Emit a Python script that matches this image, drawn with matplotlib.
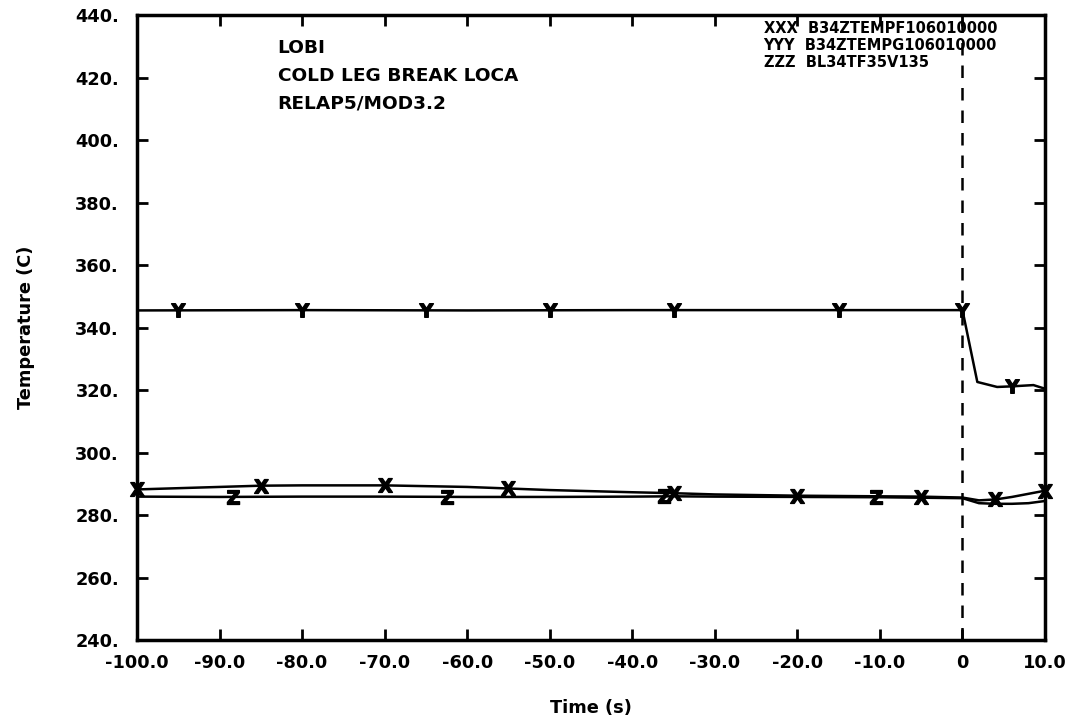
import numpy as np
import matplotlib
matplotlib.use("Agg")
import matplotlib.pyplot as plt

plt.rcParams["font.family"] = ["DejaVu Sans"]
plt.rcParams["font.weight"] = "bold"

# B34ZTEMPF106010000 (X)
t_x = [-100, -90, -85, -80, -70, -60, -55, -50, -40, -35, -30, -20, -10, -5, 0, 2, 4, 6, 8, 10]
temp_x = [288.2, 289.0, 289.4, 289.5, 289.5, 289.0, 288.5, 288.0, 287.3, 287.0,
          286.6, 286.2, 286.0, 285.9, 285.6, 284.7, 285.0, 285.8, 286.8, 287.8]
mark_x = [-100, -85, -70, -55, -35, -20, -5, 4, 10]

# B34ZTEMPG106010000 (Y)
t_y = [-100, -80, -60, -40, -20, 0, 1.8, 4.2, 6, 8.6, 9.8]
temp_y = [345.5, 345.6, 345.5, 345.6, 345.6, 345.6, 322.6, 321.0, 321.2, 321.6, 320.6]
mark_y = [-95, -80, -65, -50, -35, -15, 0, 6]

# BL34TF35V135 (Z)
t_z = [-100, -90, -80, -70, -60, -50, -40, -35, -30, -20, -10, 0, 2, 4, 6, 8, 10]
temp_z = [285.9, 285.8, 285.9, 285.9, 285.8, 285.8, 285.9, 286.0, 285.9, 285.8,
          285.7, 285.4, 283.8, 283.6, 283.6, 283.8, 284.5]
mark_z = [-88.4, -62.4, -36.2, -10.5]

legend_lines = ["XXX  B34ZTEMPF106010000", "YYY  B34ZTEMPG106010000", "ZZZ  BL34TF35V135"]
title_lines = ["LOBI", "COLD LEG BREAK LOCA", "RELAP5/MOD3.2"]

xticks = [-100, -90, -80, -70, -60, -50, -40, -30, -20, -10, 0, 10]
xlabels = ["-100.0", "-90.0", "-80.0", "-70.0", "-60.0", "-50.0", "-40.0",
           "-30.0", "-20.0", "-10.0", "0", "10.0"]
yticks = [240, 260, 280, 300, 320, 340, 360, 380, 400, 420, 440]

fig = plt.figure(figsize=(10.77, 7.24), dpi=100)
ax = fig.add_axes([0.1272, 0.116, 0.8431, 0.863])

for t, v, m, sym in [(t_x, temp_x, mark_x, "X"), (t_y, temp_y, mark_y, "Y"), (t_z, temp_z, mark_z, "Z")]:
    ax.plot(t, v, color="black", lw=1.8)
    ax.plot(m, np.interp(m, t, v), ls="none", marker="$\\mathrm{%s}$" % sym,
            ms=10, color="black", clip_on=False)

ax.axvline(0, color="black", lw=1.8, ls=(0, (5, 4)))

ax.set_xlim(-100, 10)
ax.set_ylim(240, 440)
ax.set_xticks(xticks)
ax.set_xticklabels(xlabels)
ax.set_yticks(yticks)
ax.set_yticklabels(["%d." % v for v in yticks])
ax.tick_params(direction="in", length=8, width=2, labelsize=12.8,
               top=True, right=True)
ax.tick_params(axis="x", pad=10)
ax.tick_params(axis="y", pad=13)
for lab in ax.get_xticklabels() + ax.get_yticklabels():
    lab.set_fontweight("bold")
for s in ax.spines.values():
    s.set_linewidth(2.5)

ax.set_xlabel("Time (s)", fontsize=12.8, fontweight="bold")
ax.set_ylabel("Temperature (C)", fontsize=12.8, fontweight="bold")
ax.xaxis.set_label_coords(0.5, -0.095)
ax.yaxis.set_label_coords(-0.112, 0.5)

for i, s in enumerate(title_lines):
    ax.text(0.155, 0.947 - i * 0.044, s, transform=ax.transAxes, fontsize=13.3,
            fontweight="bold", va="center")
for i, s in enumerate(legend_lines):
    ax.text(0.69, 0.979 - i * 0.027, s, transform=ax.transAxes, fontsize=10.5,
            fontweight="bold", va="center")

fig.savefig("out.png", dpi=100)
